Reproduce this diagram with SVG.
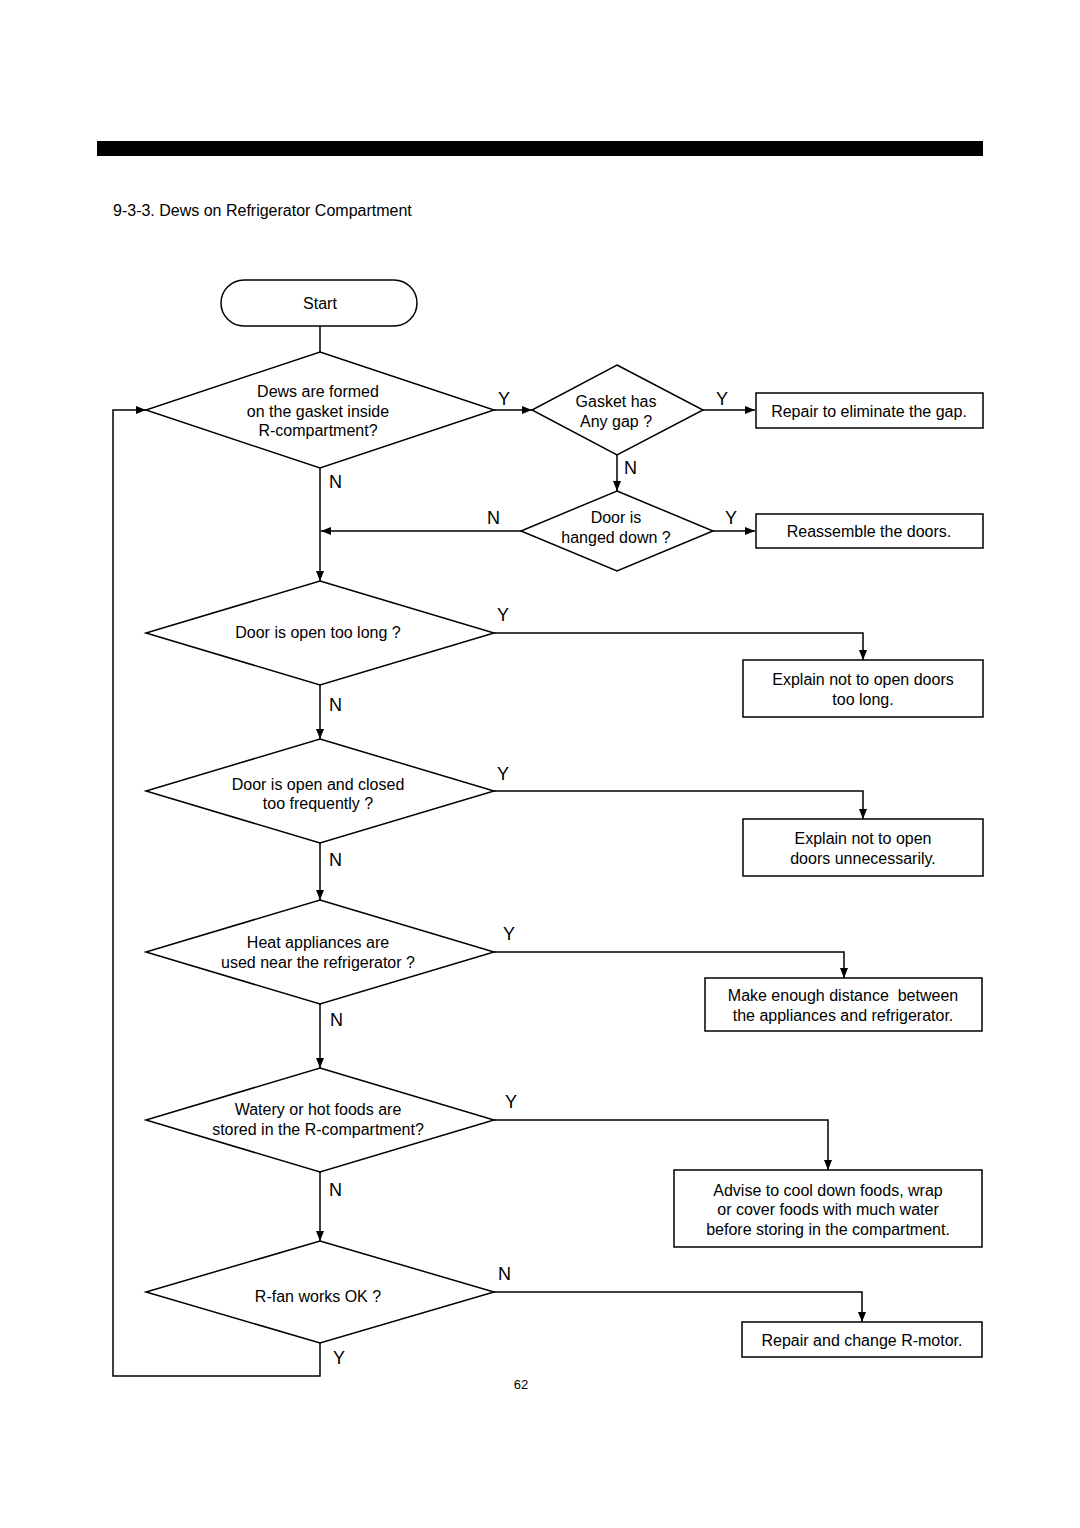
<svg xmlns="http://www.w3.org/2000/svg" width="1080" height="1528" viewBox="0 0 1080 1528">
<style>
.s{fill:#fff;stroke:#000;stroke-width:1.5}
.c{fill:none;stroke:#000;stroke-width:1.5}
text{font-family:"Liberation Sans",Arial,sans-serif;fill:#000}
.t{font-size:16px;text-anchor:middle;white-space:pre}
.l{font-size:18px}
</style>
<defs>
<marker id="a" viewBox="0 0 10 8" refX="10" refY="4" markerWidth="10" markerHeight="8" markerUnits="userSpaceOnUse" orient="auto"><path d="M0,0 L10,4 L0,8 z" fill="#000"/></marker>
</defs>
<rect x="97" y="141" width="886" height="15" fill="#000"/>
<text x="113" y="216" style="font-size:16px">9-3-3. Dews on Refrigerator Compartment</text>
<g id="connectors">
<path class="c" d="M320,326 V352"/>
<path class="c" d="M494,410 H532" marker-end="url(#a)"/>
<path class="c" d="M703,410 H755" marker-end="url(#a)"/>
<path class="c" d="M617,455 V491" marker-end="url(#a)"/>
<path class="c" d="M713,531 H755" marker-end="url(#a)"/>
<path class="c" d="M521,531 H321" marker-end="url(#a)"/>
<path class="c" d="M320,468 V581" marker-end="url(#a)"/>
<path class="c" d="M494,633 H863 V660" marker-end="url(#a)"/>
<path class="c" d="M320,685 V739" marker-end="url(#a)"/>
<path class="c" d="M494,791 H863 V819" marker-end="url(#a)"/>
<path class="c" d="M320,843 V900" marker-end="url(#a)"/>
<path class="c" d="M494,952 H844 V978" marker-end="url(#a)"/>
<path class="c" d="M320,1004 V1068" marker-end="url(#a)"/>
<path class="c" d="M494,1120 H828 V1170" marker-end="url(#a)"/>
<path class="c" d="M320,1172 V1241" marker-end="url(#a)"/>
<path class="c" d="M494,1292 H862 V1322" marker-end="url(#a)"/>
<path class="c" d="M320,1343 V1376 H113 V410 H146" marker-end="url(#a)"/>
<text class="l" x="498" y="405">Y</text>
<text class="l" x="716" y="405">Y</text>
<text class="l" x="624" y="474">N</text>
<text class="l" x="725" y="524">Y</text>
<text class="l" x="487" y="524">N</text>
<text class="l" x="329" y="488">N</text>
<text class="l" x="497" y="621">Y</text>
<text class="l" x="329" y="711">N</text>
<text class="l" x="497" y="780">Y</text>
<text class="l" x="329" y="866">N</text>
<text class="l" x="503" y="940">Y</text>
<text class="l" x="330" y="1026">N</text>
<text class="l" x="505" y="1108">Y</text>
<text class="l" x="329" y="1196">N</text>
<text class="l" x="498" y="1280">N</text>
<text class="l" x="333" y="1364">Y</text>
</g>
<g id="start"><rect class="s" x="221" y="280" width="196" height="46" rx="23"/><text class="t" x="320" y="309">Start</text></g>
<g id="d1"><path class="s" d="M320,352 L494,410 L320,468 L146,410 Z"/><text class="t" x="318" y="397">Dews are formed</text><text class="t" x="318" y="417">on the gasket inside</text><text class="t" x="318" y="436">R-compartment?</text></g>
<g id="d2"><path class="s" d="M617,365 L703,410 L617,455 L532,410 Z"/><text class="t" x="616" y="407">Gasket has</text><text class="t" x="616" y="427">Any gap ?</text></g>
<g id="b1"><rect class="s" x="756" y="393" width="227" height="35"/><text class="t" x="869" y="417">Repair to eliminate the gap.</text></g>
<g id="d3"><path class="s" d="M617,491 L713,531 L617,571 L521,531 Z"/><text class="t" x="616" y="523">Door is</text><text class="t" x="616" y="543">hanged down ?</text></g>
<g id="b2"><rect class="s" x="756" y="514" width="227" height="34"/><text class="t" x="869" y="537">Reassemble the doors.</text></g>
<g id="d4"><path class="s" d="M320,581 L494,633 L320,685 L146,633 Z"/><text class="t" x="318" y="638">Door is open too long ?</text></g>
<g id="b3"><rect class="s" x="743" y="660" width="240" height="57"/><text class="t" x="863" y="685">Explain not to open doors</text><text class="t" x="863" y="705">too long.</text></g>
<g id="d5"><path class="s" d="M320,739 L494,791 L320,843 L146,791 Z"/><text class="t" x="318" y="790">Door is open and closed</text><text class="t" x="318" y="809">too frequently ?</text></g>
<g id="b4"><rect class="s" x="743" y="819" width="240" height="57"/><text class="t" x="863" y="844">Explain not to open</text><text class="t" x="863" y="864">doors unnecessarily.</text></g>
<g id="d6"><path class="s" d="M320,900 L494,952 L320,1004 L146,952 Z"/><text class="t" x="318" y="948">Heat appliances are</text><text class="t" x="318" y="968">used near the refrigerator ?</text></g>
<g id="b5"><rect class="s" x="705" y="978" width="277" height="53"/><text class="t" x="843" y="1001">Make enough distance  between</text><text class="t" x="843" y="1021">the appliances and refrigerator.</text></g>
<g id="d7"><path class="s" d="M320,1068 L494,1120 L320,1172 L146,1120 Z"/><text class="t" x="318" y="1115">Watery or hot foods are</text><text class="t" x="318" y="1135">stored in the R-compartment?</text></g>
<g id="b6"><rect class="s" x="674" y="1170" width="308" height="77"/><text class="t" x="828" y="1196">Advise to cool down foods, wrap</text><text class="t" x="828" y="1215">or cover foods with much water</text><text class="t" x="828" y="1235">before storing in the compartment.</text></g>
<g id="d8"><path class="s" d="M320,1241 L494,1292 L320,1343 L146,1292 Z"/><text class="t" x="318" y="1302">R-fan works OK ?</text></g>
<g id="b7"><rect class="s" x="742" y="1322" width="240" height="35"/><text class="t" x="862" y="1346">Repair and change R-motor.</text></g>
<text x="521" y="1389" style="font-size:13px;text-anchor:middle">62</text>
</svg>
